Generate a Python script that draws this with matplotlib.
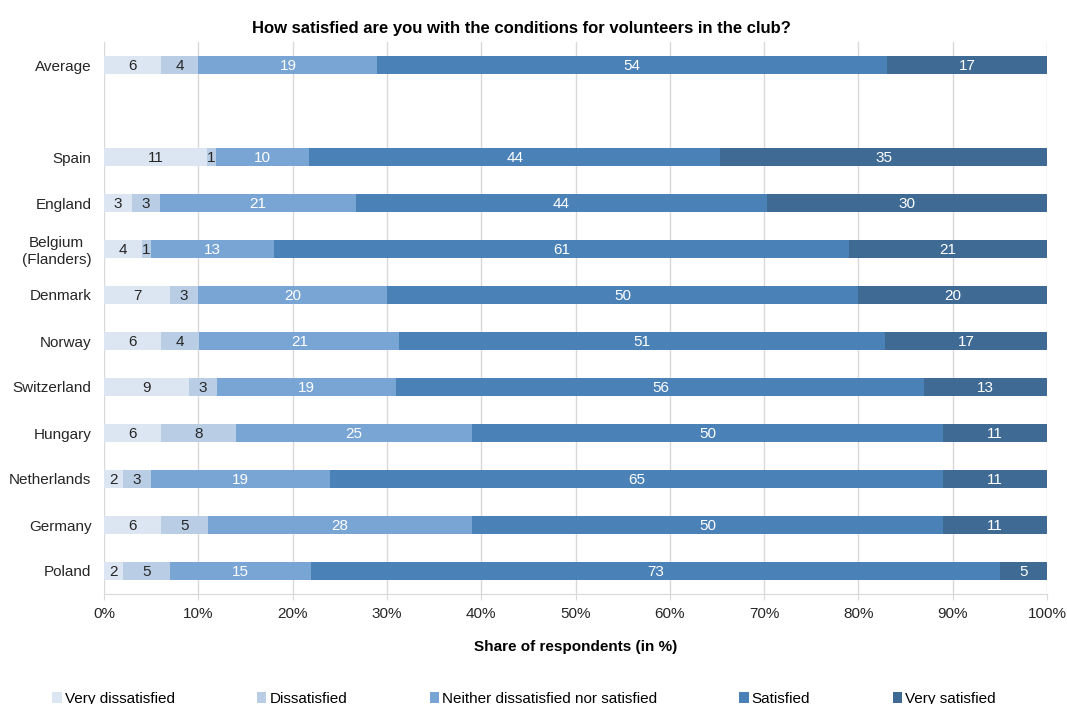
import numpy as np
import matplotlib
matplotlib.use('Agg')
import matplotlib.pyplot as plt
from matplotlib.patches import Patch

plt.rcParams['font.family'] = ['Liberation Sans', 'DejaVu Sans']

# rows top to bottom; None marks the empty gap row under "Average"
countries = ["Average", None, "Spain", "England", "Belgium\n(Flanders)", "Denmark",
             "Norway", "Switzerland", "Hungary", "Netherlands", "Germany", "Poland"]
very_dissatisfied = [6, None, 11, 3, 4, 7, 6, 9, 6, 2, 6, 2]
dissatisfied      = [4, None, 1, 3, 1, 3, 4, 3, 8, 3, 5, 5]
neither           = [19, None, 10, 21, 13, 20, 21, 19, 25, 19, 28, 15]
satisfied         = [54, None, 44, 44, 61, 50, 51, 56, 50, 65, 50, 73]
very_satisfied    = [17, None, 35, 30, 21, 20, 17, 13, 11, 11, 11, 5]

categories = ["Very dissatisfied", "Dissatisfied", "Neither dissatisfied nor satisfied",
              "Satisfied", "Very satisfied"]
colors = ["#dce6f2", "#b9cde5", "#78a5d3", "#4a81b6", "#3e6a94"]
text_colors = ["#262626", "#262626", "white", "white", "white"]

series = [very_dissatisfied, dissatisfied, neither, satisfied, very_satisfied]

fig = plt.figure(figsize=(10.67, 7.04), dpi=100)
ax = fig.add_axes([104/1067, 1-594/704, (1047-104)/1067, (594-42)/704])

rows = [i for i, c in enumerate(countries) if c is not None]
ypos = np.array(rows, dtype=float)
vals = np.array([[s[i] for i in rows] for s in series], dtype=float)
shares = vals / vals.sum(axis=0) * 100

left = np.zeros(len(rows))
for k in range(5):
    ax.barh(ypos, shares[k], left=left, height=0.4, color=colors[k], zorder=3)
    for j in range(len(rows)):
        ax.text(left[j] + shares[k][j]/2, ypos[j], "%d" % vals[k][j],
                ha='center', va='center_baseline', fontsize=11, color=text_colors[k], zorder=4)
    left += shares[k]

ax.set_ylim(len(countries) - 0.5, -0.5)
ax.set_xlim(0, 100)
ax.set_yticks(ypos)
ax.set_yticklabels([countries[i] for i in rows], fontsize=11, color="#262626")
for t in ax.get_yticklabels():
    t.set_multialignment('center')
ax.set_xticks(np.arange(0, 101, 10))
ax.set_xticklabels(["%d%%" % v for v in range(0, 101, 10)], fontsize=11, color="#262626")
ax.tick_params(axis='y', length=0, pad=9)
ax.tick_params(axis='x', length=4, color="#d9d9d9", pad=5)
ax.grid(axis='x', color="#d9d9d9", linewidth=1, zorder=0)
[ax.spines[loc].set_color("none") for loc in ["top", "right", "left"]]
ax.spines["bottom"].set_color("#d9d9d9")

fig.text(521/1067, 1-28/704, "How satisfied are you with the conditions for volunteers in the club?",
         ha='center', va='center', fontsize=12, fontweight='bold', color="#000000")
ax.set_xlabel("Share of respondents (in %)", fontsize=11, fontweight='bold', labelpad=14)

handles = [Patch(facecolor=c, edgecolor='none') for c in colors]
fig.legend(handles, categories, loc='center', bbox_to_anchor=(0.491, 0.007), ncol=5,
           frameon=False, fontsize=11, handlelength=0.6, handleheight=0.7,
           handletextpad=0.2, columnspacing=5.4)

plt.savefig("out.png", dpi=100)
